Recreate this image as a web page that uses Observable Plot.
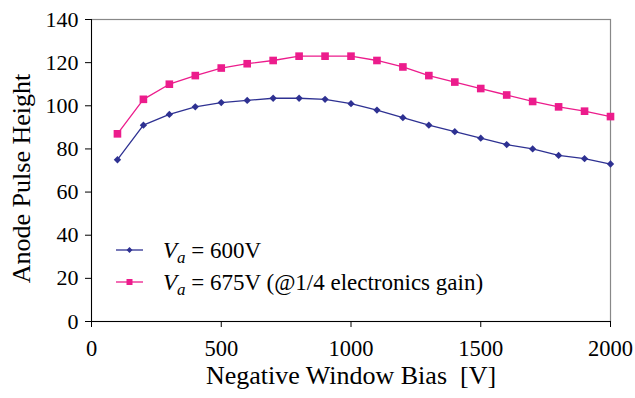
<!DOCTYPE html>
<html>
<head>
<meta charset="utf-8">
<script src="https://cdn.jsdelivr.net/npm/d3@7"></script>
<script src="https://cdn.jsdelivr.net/npm/@observablehq/plot@0.6"></script>
<style>
  html, body { margin: 0; padding: 0; background: #fff; }
  #chart { position: relative; width: 635px; height: 398px; }
</style>
</head>
<body>
<div id="chart"></div>
<script>
const bias = [100,200,300,400,500,600,700,800,900,1000,1100,1200,1300,1400,1500,1600,1700,1800,1900,2000];
const va600 = [75,91,96,99.5,101.5,102.5,103.5,103.5,103,101,98,94.5,91,88,85,82,80,77,75.5,73];
const va675 = [87,103,110,114,117.5,119.5,121,123,123,123,121,118,114,111,108,105,102,99.5,97.5,95];
const xTicks = [0,500,1000,1500,2000];
const yTicks = [0,20,40,60,80,100,120,140];
const seriesNames = ["600V", "675V (@1/4 electronics gain)"];
const seriesColors = ["#2e3192", "#ec1c8c"];
const seriesSymbols = ["diamond2", "square"];
const xTitle = "Negative Window Bias\u00a0\u00a0[V]";
const yTitle = "Anode Pulse Height";

const rows = [];
bias.forEach((b, i) => {
  rows.push({bias: b, value: va600[i], s: seriesNames[0]});
  rows.push({bias: b, value: va675[i], s: seriesNames[1]});
});

const font = "'Liberation Serif', 'Times New Roman', serif";

const plot = Plot.plot({
  width: 635,
  height: 398,
  marginLeft: 91,
  marginRight: 25,
  marginTop: 19,
  marginBottom: 77,
  style: {fontFamily: font, fontSize: "22px", background: "#fff", color: "#000"},
  x: {domain: [0, 2000]},
  y: {domain: [0, 140]},
  color: {domain: seriesNames, range: seriesColors},
  symbol: {domain: seriesNames, range: seriesSymbols},
  marks: [
    Plot.frame({stroke: "#888", strokeWidth: 1.2}),
    Plot.axisX({ticks: xTicks, tickSize: 6, tickPadding: 13, fontSize: 22.5, label: null, tickFormat: d => String(d)}),
    Plot.axisY({ticks: yTicks, tickSize: 6, tickPadding: 7, fontSize: 22, label: null, tickFormat: d => String(d)}),
    Plot.ruleX([0], {stroke: "#000"}),
    Plot.ruleY([0], {stroke: "#000"}),
    Plot.line(rows, {x: "bias", y: "value", z: "s", stroke: "s", strokeWidth: 1.3}),
    Plot.dot(rows.filter(d => d.s === seriesNames[0]), {x: "bias", y: "value", symbol: "s", fill: "s", r: 3.3, stroke: "none"}),
    Plot.dot(rows.filter(d => d.s === seriesNames[1]), {x: "bias", y: "value", symbol: "s", fill: "s", r: 4.3, stroke: "none"}),
    Plot.text([xTitle], {frameAnchor: "bottom", dy: 62, fontSize: 26, fill: "#000"}),
    Plot.text([yTitle], {frameAnchor: "left", textAnchor: "middle", dx: -70, dy: 8, rotate: -90, fontSize: 26, fill: "#000"})
  ]
});

document.getElementById("chart").appendChild(plot);

// In-plot legend
const svg = d3.select(plot);
const leg = svg.append("g").attr("font-family", font).attr("font-size", 23).attr("text-anchor", "start");
const legY = [250, 282];
seriesNames.forEach((name, i) => {
  const g = leg.append("g").attr("transform", `translate(0,${legY[i]})`);
  g.append("line").attr("x1", 116).attr("x2", 143).attr("y1", 0).attr("y2", 0)
    .attr("stroke", seriesColors[i]).attr("stroke-width", 1.3);
  const sym = i === 0 ? d3.symbol(d3.symbolDiamond2, 22) : d3.symbol(d3.symbolSquare, 36);
  g.append("path").attr("d", sym()).attr("transform", "translate(129.5,0)").attr("fill", seriesColors[i]);
  const t = g.append("text").attr("x", 163).attr("y", 8).attr("fill", "#000");
  t.append("tspan").attr("font-style", "italic").text("V");
  t.append("tspan").attr("font-style", "italic").attr("font-size", 17).attr("dy", 5).text("a");
  t.append("tspan").attr("dy", -5).text("\u00a0= " + name);
});
</script>
</body>
</html>
